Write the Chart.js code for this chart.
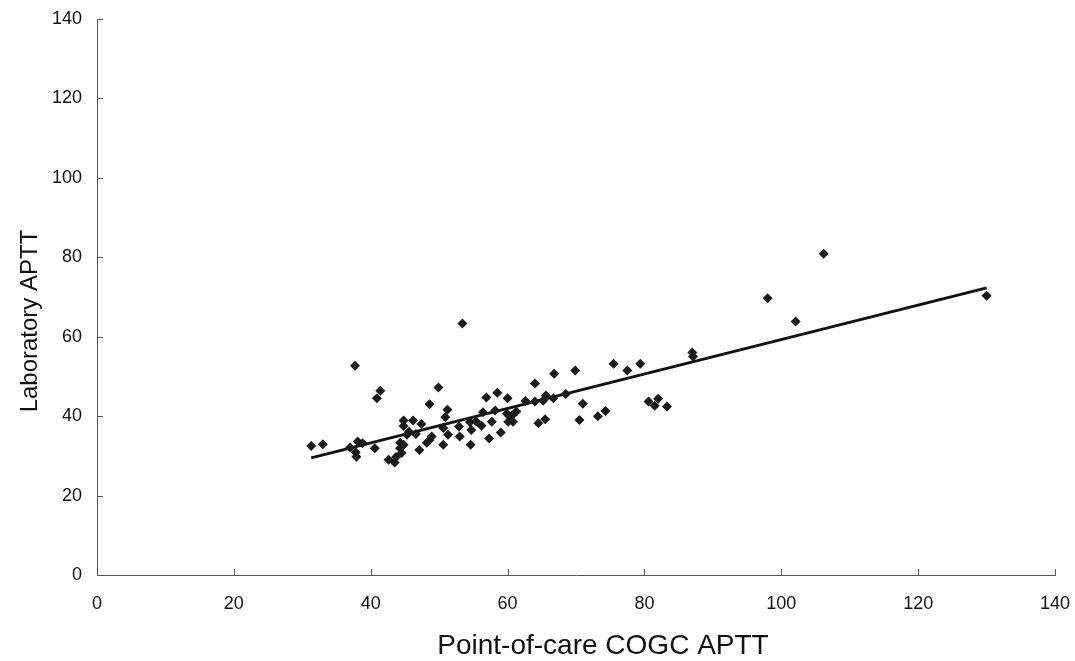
<!DOCTYPE html>
<html>
<head>
<meta charset="utf-8">
<script src="https://cdn.jsdelivr.net/npm/chart.js@4.4.1/dist/chart.umd.min.js"></script>
<style>
html,body{margin:0;padding:0;background:#fff;}
#wrap{width:1075px;height:661px;}
</style>
</head>
<body>
<div id="wrap"><canvas id="c" width="1075" height="661"></canvas></div>
<script>
const xTitle = "Point-of-care COGC APTT";
const yTitle = "Laboratory APTT";
const axisTicks = [0, 20, 40, 60, 80, 100, 120, 140];

const pocX = [31.3,33.0,37.0,37.7,37.8,37.9,38.1,38.8,40.6,40.9,41.4,42.6,43.5,43.7,44.3,44.8,44.3,44.5,44.8,44.8,45.3,45.6,46.2,46.6,47.4,47.1,48.2,48.6,48.6,48.9,49.9,50.6,50.6,50.9,51.2,51.3,52.9,53.0,53.4,54.5,54.6,54.7,55.4,56.2,56.4,56.9,57.3,57.7,58.2,58.5,59.0,59.9,60.0,60.6,60.1,60.8,61.3,62.6,64.0,64.0,64.5,65.5,65.6,65.2,66.7,66.8,68.5,69.9,70.5,71.0,73.2,74.3,75.5,77.5,79.4,80.6,81.5,82.0,83.3,87.0,87.1,98.0,102.1,106.2,130.0];
const labY = [32.5,32.9,32.1,52.7,30.9,29.8,33.6,33.2,31.9,44.5,46.4,29.0,28.3,29.7,33.3,32.8,31.9,30.7,38.9,37.5,35.3,36.1,38.9,35.5,38.0,31.5,33.3,34.0,43.0,34.9,47.2,32.8,37.0,39.7,41.6,35.3,37.4,34.9,63.3,38.5,32.8,36.5,38.7,37.6,41.0,44.7,34.4,38.6,41.4,45.9,35.9,40.6,44.5,40.1,38.6,38.6,41.2,43.8,48.2,43.7,38.2,39.2,45.2,43.9,44.5,50.7,45.6,51.5,39.0,43.1,40.0,41.3,53.2,51.5,53.2,43.7,42.6,44.4,42.4,56.0,55.0,69.7,63.8,80.9,70.3];

const fitX = [31.3, 130.0];
const fitY = [29.5, 72.3];

const points = pocX.map((x, i) => ({x: x, y: labY[i]}));
const fitLine = fitX.map((x, i) => ({x: x, y: fitY[i]}));

const FONT = "'Liberation Sans', Arial, sans-serif";

const innerTicks = {
  id: 'innerTicks',
  afterDraw(chart) {
    const ctx = chart.ctx;
    const xs = chart.scales.x, ys = chart.scales.y;
    const ca = chart.chartArea;
    ctx.save();
    ctx.strokeStyle = '#555';
    ctx.lineWidth = 1;
    ctx.beginPath();
    axisTicks.forEach(v => {
      const px = Math.round(xs.getPixelForValue(v)) + 0.5;
      ctx.moveTo(px, ca.bottom);
      ctx.lineTo(px, ca.bottom - 6);
      const py = Math.round(ys.getPixelForValue(v)) + 0.5;
      ctx.moveTo(ca.left, py);
      ctx.lineTo(ca.left + 6, py);
    });
    ctx.stroke();
    // axis titles
    ctx.fillStyle = '#111';
    ctx.textAlign = 'center';
    ctx.textBaseline = 'middle';
    ctx.font = "28px " + FONT;
    ctx.fillText(xTitle, (ca.left + ca.right) / 2 + 27, 646);
    ctx.translate(30, (ca.top + ca.bottom) / 2 + 24);
    ctx.rotate(-Math.PI / 2);
    ctx.font = "24px " + FONT;
    ctx.fillText(yTitle, 0, 0);
    ctx.restore();
  }
};

new Chart(document.getElementById('c'), {
  type: 'scatter',
  data: {
    datasets: [
      {
        label: 'Data',
        data: points,
        pointStyle: 'rectRot',
        pointRadius: 5,
        pointHoverRadius: 5,
        backgroundColor: '#1a1a1a',
        borderColor: '#1a1a1a',
        borderWidth: 0,
        order: 1
      },
      {
        label: 'Fit',
        type: 'line',
        data: fitLine,
        borderColor: '#111',
        borderWidth: 3,
        pointRadius: 0,
        fill: false,
        order: 2
      }
    ]
  },
  options: {
    responsive: false,
    animation: false,
    devicePixelRatio: 1,
    layout: { padding: { top: 19, right: 20, left: 0, bottom: 0 } },
    plugins: { legend: { display: false }, tooltip: { enabled: false } },
    scales: {
      x: {
        type: 'linear',
        min: 0, max: 140,
        afterBuildTicks: s => { s.ticks = axisTicks.map(v => ({value: v})); },
        afterFit: s => { s.height = 86; s.paddingLeft = 0; s.paddingRight = 0; },
        grid: { display: true, drawOnChartArea: false, drawTicks: false, color: 'rgba(0,0,0,0)' },
        border: { display: true, color: '#555', width: 1 },
        ticks: { color: '#111', padding: 18, maxRotation: 0, font: { family: FONT, size: 18 } },
        title: { display: false }
      },
      y: {
        type: 'linear',
        min: 0, max: 140,
        afterBuildTicks: s => { s.ticks = axisTicks.map(v => ({value: v})); },
        afterFit: s => { s.width = 97; s.paddingTop = 0; s.paddingBottom = 0; },
        grid: { display: true, drawOnChartArea: false, drawTicks: false, color: 'rgba(0,0,0,0)' },
        border: { display: true, color: '#555', width: 1 },
        ticks: { color: '#111', padding: 15, font: { family: FONT, size: 18 } },
        title: { display: false }
      }
    }
  },
  plugins: [innerTicks]
});
</script>
</body>
</html>
